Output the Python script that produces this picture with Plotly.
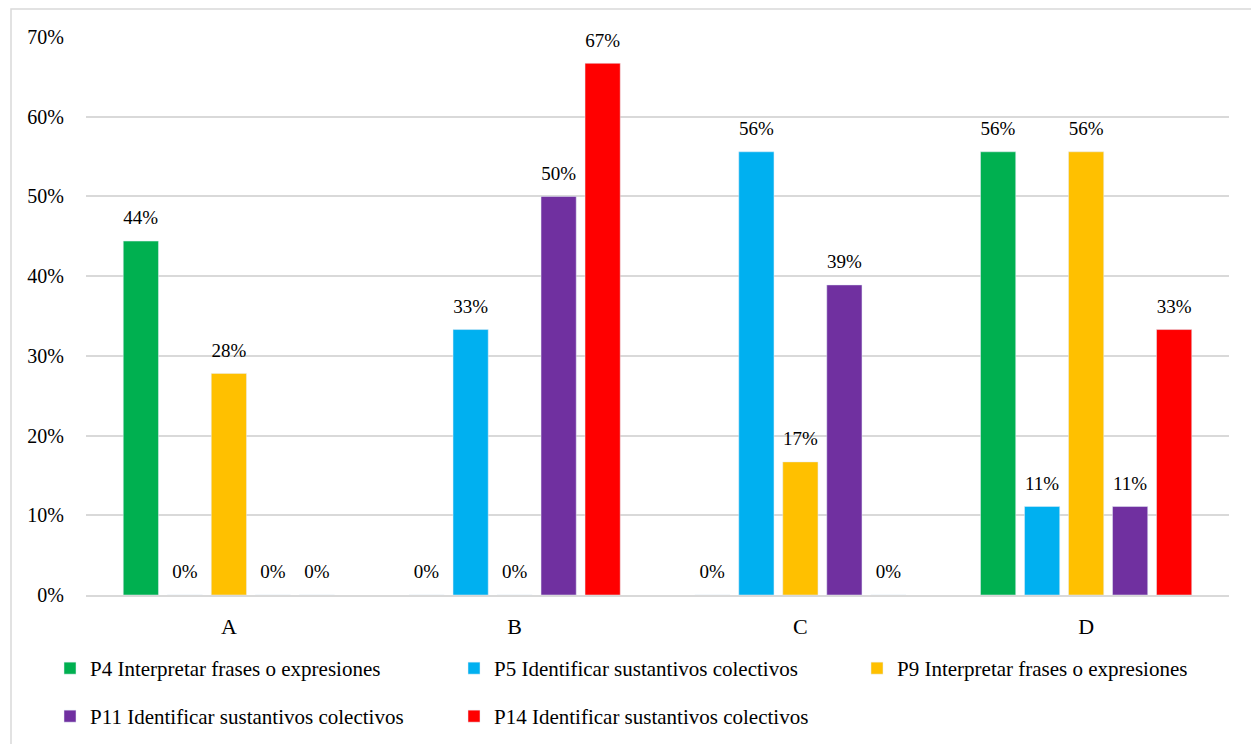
import plotly.graph_objects as go

categories = ["A", "B", "C", "D"]
series_names = [
    "P4 Interpretar frases o expresiones",
    "P5 Identificar sustantivos colectivos",
    "P9 Interpretar frases o expresiones",
    "P11 Identificar sustantivos colectivos",
    "P14 Identificar sustantivos colectivos",
]
p4 = [44.4, 0, 0, 55.6]
p5 = [0, 33.3, 55.6, 11.1]
p9 = [27.8, 0, 16.7, 55.6]
p11 = [0, 50.0, 38.9, 11.1]
p14 = [0, 66.7, 0, 33.3]
colors = ["#00B050", "#00B0F0", "#FFC000", "#7030A0", "#FF0000"]

FONT = "Liberation Serif"

# one legend box per entry, so the entries can sit where they sit in the reference
legend_ids = ["legend", "legend2", "legend3", "legend4", "legend5"]
legend_text_x = [91, 495, 898, 91, 495]      # pixel x where entry text starts
legend_top_y = [648, 648, 648, 696, 696]     # pixel y of entry top

fig = go.Figure()
for name, vals, col, lg in zip(series_names, [p4, p5, p9, p11, p14], colors, legend_ids):
    fig.add_trace(go.Bar(
        x=categories, y=vals, name=name, marker_color=col, legend=lg,
        text=[f"<span style='font-size:19px'>{round(v)}%</span><br> " for v in vals],
        textposition="outside", cliponaxis=False, constraintext="none",
        textfont=dict(family=FONT, size=9, color="#000000"),
        hoverinfo="skip",
    ))

L, T, PW, PH = 86, 37, 1143, 558
legends = {}
for lg, tx, ty in zip(legend_ids, legend_text_x, legend_top_y):
    legends[lg] = dict(
        orientation="h", xanchor="left", yanchor="top",
        x=(tx - 41 - L) / PW, y=(T + PH - ty) / PH,
        font=dict(family=FONT, size=21, color="#000000"),
        itemwidth=30, bgcolor="rgba(0,0,0,0)",
    )

fig.update_layout(
    width=1251, height=744,
    margin=dict(l=L, r=1251 - L - PW, t=T, b=744 - T - PH, autoexpand=False),
    paper_bgcolor="white", plot_bgcolor="white",
    barmode="group", bargap=0.23, bargroupgap=0.2,
    font=dict(family=FONT, size=19, color="#000000"),
    showlegend=True,
    **legends,
)
fig.update_yaxes(
    range=[0, 70], dtick=10, ticksuffix="%",
    showgrid=True, gridcolor="#D9D9D9", gridwidth=1.5,
    zeroline=False, showline=False,
    tickfont=dict(family=FONT, size=20, color="#000000"), ticklabelstandoff=21,
    automargin=False,
)
fig.update_xaxes(
    showline=True, linecolor="#D9D9D9", linewidth=1.5,
    tickfont=dict(family=FONT, size=22, color="#000000"), ticks="", ticklabelstandoff=11,
    automargin=False,
)
fig.add_shape(type="rect", xref="paper", yref="paper",
              x0=(11 - L) / PW, x1=(1252 - L) / PW,
              y0=(T + PH - 770) / PH, y1=1 + (T - 9) / PH,
              line=dict(color="#D9D9D9", width=1.5), fillcolor="rgba(0,0,0,0)", layer="below")

fig.write_html("out.html")
